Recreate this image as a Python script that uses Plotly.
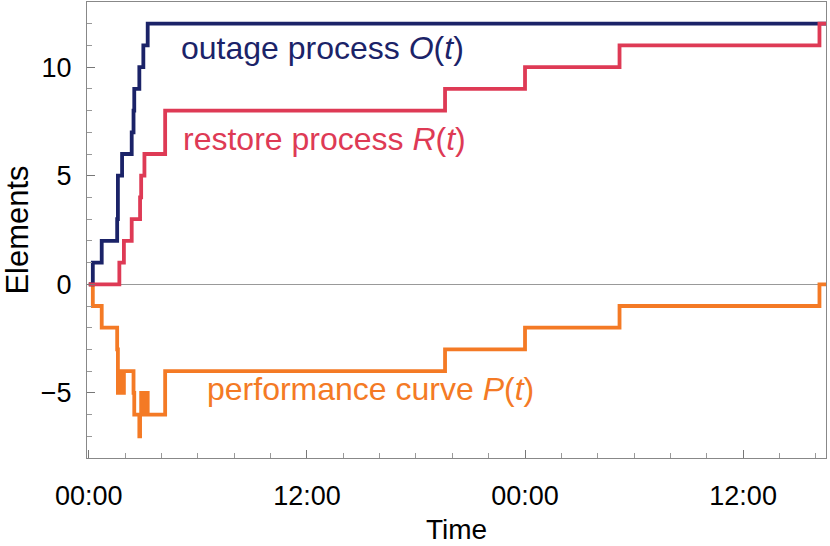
import pandas as pd
import plotly.graph_objects as go

BASE = pd.Timestamp("2012-10-29 00:00")
END_H = 40.56

# Outage process O(t): event times (hours since 00:00) and cumulative counts
o_hours = [0, 0.22, 0.71, 1.56, 1.60, 1.83, 2.36, 2.46, 2.50, 2.78, 3.00, 3.24, END_H]
o_vals = [0, 1, 2, 3, 5, 6, 7, 8, 9, 10, 11, 12, 12]

# Restore process R(t)
r_hours = [0, 1.68, 1.93, 2.36, 2.82, 2.88, 3.06, 4.20, 19.6, 24.0, 29.2, 40.2, END_H]
r_vals = [0, 1, 2, 3, 4, 5, 6, 8, 9, 10, 11, 12, 12]

# Performance curve P(t)
p_hours = [0, 0.22, 0.71, 1.56, 1.60, 1.68, 1.83, 1.93, 2.46, 2.50, 2.78, 2.82,
           2.88, 3.00, 3.06, 3.24, 4.20, 19.6, 24.0, 29.2, 40.2, END_H]
p_vals = [0, -1, -2, -3, -5, -4, -5, -4, -5, -6, -7, -6,
          -5, -6, -5, -6, -4, -3, -2, -1, 0, 0]

x_range_h = [-0.1, END_H]
y_range = [-8, 13]

labels = ["outage process <i>O</i>(<i>t</i>)",
          "restore process <i>R</i>(<i>t</i>)",
          "performance curve <i>P</i>(<i>t</i>)"]
label_pos_h = [4.95, 5.05, 6.4]
label_pos_y = [10.9, 6.7, -4.8]

BLUE = "#1b2368"
RED = "#de3a55"
ORANGE = "#f47a25"


def to_time(hours):
    return [BASE + pd.Timedelta(hours=h) for h in hours]


fig = go.Figure()
for hrs, vals, col in [(p_hours, p_vals, ORANGE), (o_hours, o_vals, BLUE), (r_hours, r_vals, RED)]:
    fig.add_trace(go.Scatter(x=to_time(hrs), y=vals, mode="lines",
                             line=dict(shape="hv", color=col, width=3.8),
                             showlegend=False, hoverinfo="skip"))

for txt, hx, yy, col in zip(labels, label_pos_h, label_pos_y, [BLUE, RED, ORANGE]):
    fig.add_annotation(x=to_time([hx])[0], y=yy, text=txt, showarrow=False,
                       xanchor="left", yanchor="middle",
                       font=dict(family="Liberation Sans", size=32, color=col))

FONT = "Liberation Sans"
fig.update_layout(
    width=830, height=546,
    margin=dict(l=87, r=4, t=2, b=88),
    paper_bgcolor="white", plot_bgcolor="white",
    font=dict(family=FONT, color="black"),
    xaxis=dict(
        type="date", automargin=False,
        range=to_time(x_range_h),
        tick0=BASE, dtick=12 * 3600 * 1000, tickformat="%H:%M",
        ticks="inside", ticklen=8, tickcolor="#777", tickwidth=1,
        minor=dict(ticks="inside", ticklen=5, dtick=2 * 3600 * 1000, tickcolor="#999"),
        showline=True, linecolor="#888", linewidth=1, mirror=True,
        showgrid=False, zeroline=False,
        tickfont=dict(size=27),
        ticklabelstandoff=14,
        title=dict(text="Time", font=dict(size=28), standoff=8),
    ),
    yaxis=dict(
        automargin=False,
        range=y_range,
        tick0=0, dtick=5,
        ticks="inside", ticklen=8, tickcolor="#777", tickwidth=1,
        minor=dict(ticks="inside", ticklen=5, dtick=1, tickcolor="#999"),
        showline=True, linecolor="#888", linewidth=1, mirror=True,
        showgrid=False,
        zeroline=True, zerolinecolor="#999", zerolinewidth=1,
        tickfont=dict(size=27),
        ticklabelstandoff=9,
        title=dict(text="Elements", font=dict(size=31), standoff=6),
    ),
)

fig.write_html("out.html", config={"displayModeBar": False},
               post_script="document.body.style.margin='0';document.body.style.overflow='hidden';")
